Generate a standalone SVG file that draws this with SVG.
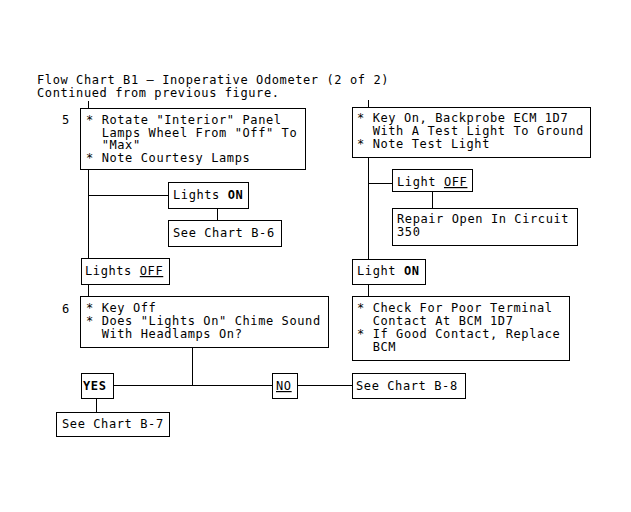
<svg xmlns="http://www.w3.org/2000/svg" width="631" height="512" viewBox="0 0 631 512">
<style>
text{font-family:"DejaVu Sans Mono","Liberation Mono",monospace;font-size:12px;letter-spacing:0.6px;fill:#000;white-space:pre}
.b{fill:#fff;stroke:#000;stroke-width:1}
.c line{stroke:#000;stroke-width:1}
.bold{font-weight:bold}
.u{text-decoration:underline}
</style>
<rect width="631" height="512" fill="#fff"/>
<g id="title">
<text x="37" y="84">Flow Chart B1 – Inoperative Odometer (2 of 2)</text>
<text x="37" y="97">Continued from previous figure.</text>
</g>
<g class="c" id="connectors">
<line x1="88.5" y1="101" x2="88.5" y2="108.5"/>
<line x1="368.5" y1="100" x2="368.5" y2="107.5"/>
<line x1="88.5" y1="169.5" x2="88.5" y2="258.5"/>
<line x1="88.5" y1="195.5" x2="168.5" y2="195.5"/>
<line x1="217.5" y1="208.5" x2="217.5" y2="220.5"/>
<line x1="88.5" y1="284.5" x2="88.5" y2="296.5"/>
<line x1="192.5" y1="347.5" x2="192.5" y2="385.5"/>
<line x1="113.5" y1="385.5" x2="272.5" y2="385.5"/>
<line x1="297.5" y1="385.5" x2="352.5" y2="385.5"/>
<line x1="96.5" y1="398.5" x2="96.5" y2="412.5"/>
<line x1="368.5" y1="157.5" x2="368.5" y2="259.5"/>
<line x1="368.5" y1="183.5" x2="392.5" y2="183.5"/>
<line x1="432.5" y1="191.5" x2="432.5" y2="208.5"/>
<line x1="368.5" y1="284.5" x2="368.5" y2="296.5"/>
</g>
<g id="step5">
<text x="62" y="124">5</text>
<rect class="b" x="80.5" y="108.5" width="225" height="61"/>
<text x="86" y="124">* Rotate "Interior" Panel</text>
<text x="86" y="136.5">  Lamps Wheel From "Off" To</text>
<text x="86" y="149">  "Max"</text>
<text x="86" y="161.5">* Note Courtesy Lamps</text>
</g>
<g id="lightsOn">
<rect class="b" x="168.5" y="182.5" width="80" height="26"/>
<text x="173" y="199">Lights <tspan class="bold">ON</tspan></text>
</g>
<g id="seeB6">
<rect class="b" x="168.5" y="220.5" width="113" height="26"/>
<text x="173" y="237">See Chart B-6</text>
</g>
<g id="lightsOff">
<rect class="b" x="81.5" y="258.5" width="88" height="26"/>
<text x="85" y="275">Lights <tspan class="u">OFF</tspan></text>
</g>
<g id="step6">
<text x="62" y="313">6</text>
<rect class="b" x="80.5" y="296.5" width="248" height="51"/>
<text x="86" y="312">* Key Off</text>
<text x="86" y="325">* Does "Lights On" Chime Sound</text>
<text x="86" y="338">  With Headlamps On?</text>
</g>
<g id="yes">
<rect class="b" x="81.5" y="373.5" width="32" height="25"/>
<text x="83" y="390" class="bold">YES</text>
</g>
<g id="seeB7">
<rect class="b" x="56.5" y="412.5" width="113" height="24"/>
<text x="62" y="428">See Chart B-7</text>
</g>
<g id="no">
<rect class="b" x="272.5" y="373.5" width="25" height="25"/>
<text x="276" y="390"><tspan class="u">NO</tspan></text>
</g>
<g id="seeB8">
<rect class="b" x="352.5" y="373.5" width="113" height="25"/>
<text x="356" y="390">See Chart B-8</text>
</g>
<g id="keyOn">
<rect class="b" x="352.5" y="107.5" width="238" height="50"/>
<text x="357" y="122">* Key On, Backprobe ECM 1D7</text>
<text x="357" y="135">  With A Test Light To Ground</text>
<text x="357" y="148">* Note Test Light</text>
</g>
<g id="lightOff">
<rect class="b" x="392.5" y="169.5" width="80" height="22"/>
<text x="397" y="186">Light <tspan class="u">OFF</tspan></text>
</g>
<g id="repair">
<rect class="b" x="392.5" y="208.5" width="185" height="37"/>
<text x="397" y="223">Repair Open In Circuit</text>
<text x="397" y="236">350</text>
</g>
<g id="lightOn">
<rect class="b" x="352.5" y="259.5" width="73" height="25"/>
<text x="357" y="275">Light <tspan class="bold">ON</tspan></text>
</g>
<g id="checkBCM">
<rect class="b" x="352.5" y="296.5" width="217" height="64"/>
<text x="357" y="312">* Check For Poor Terminal</text>
<text x="357" y="325">  Contact At BCM 1D7</text>
<text x="357" y="338">* If Good Contact, Replace</text>
<text x="357" y="351">  BCM</text>
</g>
</svg>
